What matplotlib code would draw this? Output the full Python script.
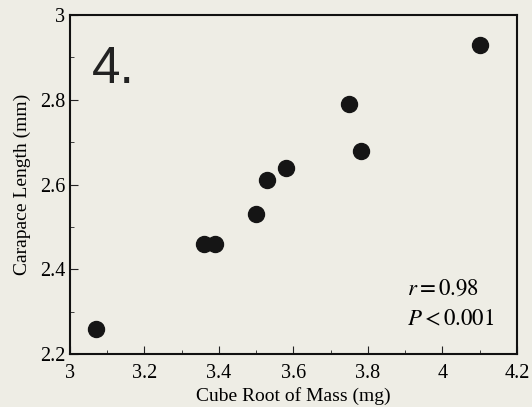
import numpy as np
from matplotlib import pyplot as plt
from matplotlib.ticker import MultipleLocator

# cube root of mass (mg) vs carapace length (mm)
cube_root_mass = [3.07, 3.36, 3.39, 3.50, 3.53, 3.58, 3.75, 3.78, 4.10]
carapace_len = [2.26, 2.46, 2.46, 2.53, 2.61, 2.64, 2.79, 2.68, 2.93]

bg = '#eeede5'
plt.rcParams['font.family'] = 'Liberation Serif'
plt.rcParams['mathtext.fontset'] = 'stix'

fig = plt.figure(figsize=(5.32, 4.07), dpi=100, facecolor=bg)
ax = fig.add_axes([70 / 532, 1 - 354 / 407, 447 / 532, 339 / 407])
ax.set_facecolor(bg)

ax.scatter(cube_root_mass, carapace_len, s=11.5 ** 2, color='#151515', zorder=3)

ax.set_xlim(3, 4.2)
ax.set_ylim(2.2, 3)
ax.xaxis.set_major_locator(MultipleLocator(0.2))
ax.xaxis.set_minor_locator(MultipleLocator(0.1))
ax.yaxis.set_major_locator(MultipleLocator(0.2))
ax.yaxis.set_minor_locator(MultipleLocator(0.1))
ax.xaxis.set_major_formatter(lambda v, p: f'{v:g}')
ax.yaxis.set_major_formatter(lambda v, p: f'{v:g}')
ax.tick_params(which='both', direction='in', top=False, right=False, labelsize=14.5, color='#222')
ax.tick_params(axis='x', which='major', pad=7)
ax.tick_params(which='major', length=6)
ax.tick_params(which='minor', length=3)
for sp in ax.spines.values():
    sp.set_linewidth(1.5)
    sp.set_color('#111')

ax.set_xlabel('Cube Root of Mass (mg)', fontsize=14, labelpad=3)
ax.set_ylabel('Carapace Length (mm)', fontsize=14, labelpad=6)

ax.text(0.05, 0.80, '4.', transform=ax.transAxes, fontsize=37,
        family='Liberation Sans', color='#222')
ax.text(0.755, 0.175, r'$r = 0.98$', transform=ax.transAxes, fontsize=16.5)
ax.text(0.755, 0.085, r'$P < 0.001$', transform=ax.transAxes, fontsize=16.5)

fig.savefig('out.png', dpi=100, facecolor=bg)
